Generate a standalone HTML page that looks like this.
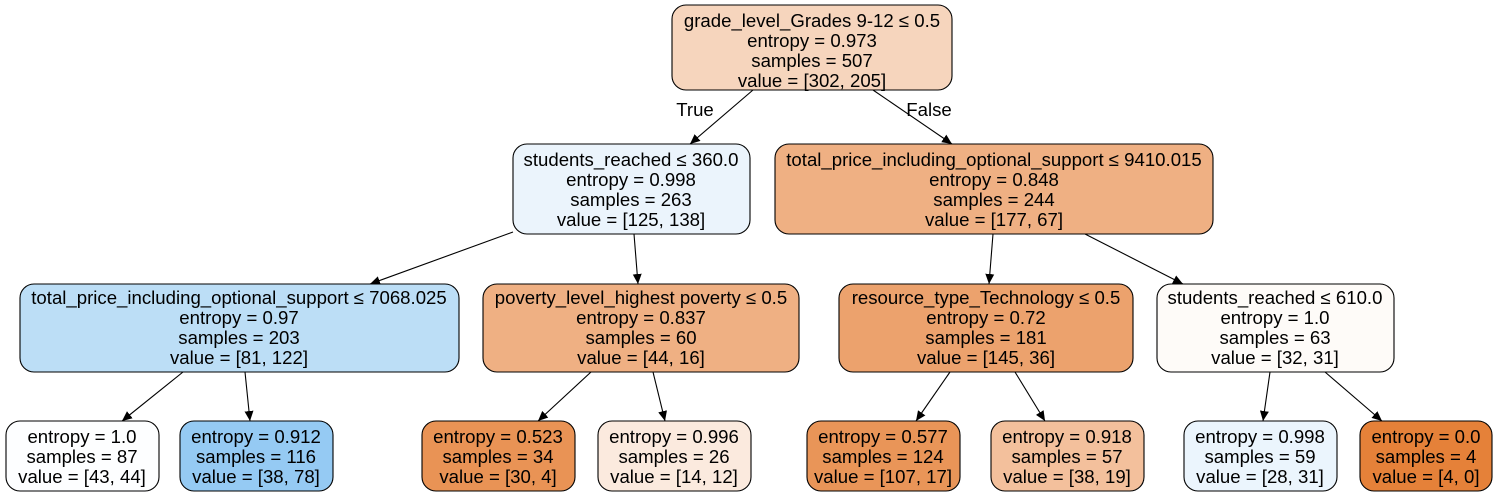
<!DOCTYPE html>
<html><head><meta charset="utf-8"><style>
html,body{margin:0;padding:0;background:#fff;}
svg text{font-family:"Liberation Sans",Helvetica,Arial,sans-serif;font-size:18.6px;fill:#000;text-anchor:middle;}
</style></head><body>
<svg width="1497" height="497" viewBox="0 0 1497 497" xmlns="http://www.w3.org/2000/svg">
<defs><marker id="a" markerWidth="10" markerHeight="10" refX="10" refY="5" orient="auto" markerUnits="userSpaceOnUse"><path d="M0,0.5 L10,5 L0,9.5 z" fill="#000"/></marker></defs>
<g stroke="#000" stroke-width="1.1" fill="none" marker-end="url(#a)">
<line x1="753" y1="90" x2="690" y2="144"/>
<line x1="873" y1="90" x2="952" y2="144"/>
<line x1="513" y1="232" x2="370" y2="284"/>
<line x1="634" y1="234" x2="638" y2="284"/>
<line x1="993" y1="234" x2="989" y2="284"/>
<line x1="1085" y1="234" x2="1183" y2="284"/>
<line x1="183" y1="372" x2="122" y2="421"/>
<line x1="245" y1="372" x2="250" y2="421"/>
<line x1="591" y1="372" x2="538" y2="421"/>
<line x1="653" y1="372" x2="665" y2="421"/>
<line x1="950" y1="372" x2="916" y2="421"/>
<line x1="1015" y1="372" x2="1045" y2="421"/>
<line x1="1270" y1="372" x2="1263" y2="421"/>
<line x1="1325" y1="372" x2="1382" y2="421"/>
</g>
<text x="695" y="116">True</text>
<text x="929" y="116">False</text>
<g stroke="#000" stroke-width="1.1">
<rect x="672" y="5" width="280" height="85" rx="14" fill="#f6d5bd"/>
<rect x="513" y="144" width="237" height="90" rx="14" fill="#ebf4fc"/>
<rect x="775" y="144" width="438" height="90" rx="14" fill="#efb083"/>
<rect x="20" y="284" width="439" height="88" rx="14" fill="#bcdef6"/>
<rect x="483" y="284" width="316" height="88" rx="14" fill="#efb083"/>
<rect x="839" y="284" width="294" height="88" rx="14" fill="#eca26d"/>
<rect x="1157" y="284" width="237" height="88" rx="14" fill="#fefbf8"/>
<rect x="6" y="421" width="153" height="70" rx="14" fill="#fdfeff"/>
<rect x="180" y="421" width="153" height="70" rx="14" fill="#95caf3"/>
<rect x="422" y="421" width="153" height="70" rx="14" fill="#e99355"/>
<rect x="598" y="421" width="153" height="70" rx="14" fill="#fbeade"/>
<rect x="807" y="421" width="153" height="70" rx="14" fill="#e99558"/>
<rect x="991" y="421" width="153" height="70" rx="14" fill="#f3c09c"/>
<rect x="1184" y="421" width="153" height="70" rx="14" fill="#ebf5fd"/>
<rect x="1360" y="421" width="132" height="70" rx="14" fill="#e58139"/>
</g>
<text x="812" y="27">grade_level_Grades 9-12 ≤ 0.5</text><text x="812" y="47">entropy = 0.973</text><text x="812" y="67">samples = 507</text><text x="812" y="87">value = [302, 205]</text>
<text x="631" y="166">students_reached ≤ 360.0</text><text x="631" y="186">entropy = 0.998</text><text x="631" y="206">samples = 263</text><text x="631" y="226">value = [125, 138]</text>
<text x="994" y="166">total_price_including_optional_support ≤ 9410.015</text><text x="994" y="186">entropy = 0.848</text><text x="994" y="206">samples = 244</text><text x="994" y="226">value = [177, 67]</text>
<text x="239" y="304">total_price_including_optional_support ≤ 7068.025</text><text x="239" y="324">entropy = 0.97</text><text x="239" y="344">samples = 203</text><text x="239" y="364">value = [81, 122]</text>
<text x="641" y="304">poverty_level_highest poverty ≤ 0.5</text><text x="641" y="324">entropy = 0.837</text><text x="641" y="344">samples = 60</text><text x="641" y="364">value = [44, 16]</text>
<text x="986" y="304">resource_type_Technology ≤ 0.5</text><text x="986" y="324">entropy = 0.72</text><text x="986" y="344">samples = 181</text><text x="986" y="364">value = [145, 36]</text>
<text x="1275" y="304">students_reached ≤ 610.0</text><text x="1275" y="324">entropy = 1.0</text><text x="1275" y="344">samples = 63</text><text x="1275" y="364">value = [32, 31]</text>
<text x="82" y="443">entropy = 1.0</text><text x="82" y="463">samples = 87</text><text x="82" y="483">value = [43, 44]</text>
<text x="256" y="443">entropy = 0.912</text><text x="256" y="463">samples = 116</text><text x="256" y="483">value = [38, 78]</text>
<text x="498" y="443">entropy = 0.523</text><text x="498" y="463">samples = 34</text><text x="498" y="483">value = [30, 4]</text>
<text x="674" y="443">entropy = 0.996</text><text x="674" y="463">samples = 26</text><text x="674" y="483">value = [14, 12]</text>
<text x="883" y="443">entropy = 0.577</text><text x="883" y="463">samples = 124</text><text x="883" y="483">value = [107, 17]</text>
<text x="1067" y="443">entropy = 0.918</text><text x="1067" y="463">samples = 57</text><text x="1067" y="483">value = [38, 19]</text>
<text x="1260" y="443">entropy = 0.998</text><text x="1260" y="463">samples = 59</text><text x="1260" y="483">value = [28, 31]</text>
<text x="1426" y="443">entropy = 0.0</text><text x="1426" y="463">samples = 4</text><text x="1426" y="483">value = [4, 0]</text>
</svg>
</body></html>
